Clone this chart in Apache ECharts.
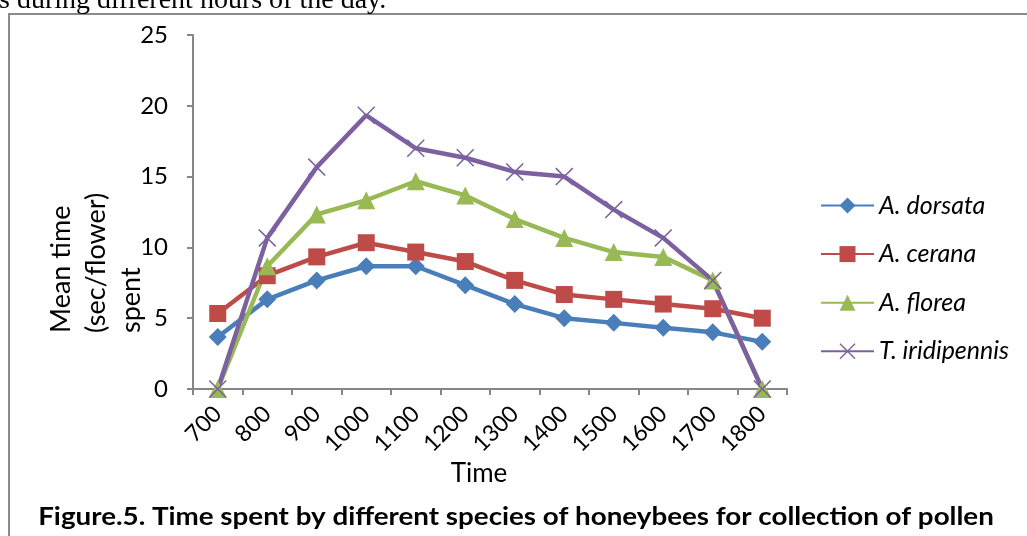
<!DOCTYPE html>
<html>
<head>
<meta charset="utf-8">
<script src="https://cdn.jsdelivr.net/npm/echarts@6/dist/echarts.min.js"></script>
<style>
  html, body { margin: 0; padding: 0; background: #fff; }
  #chart { width: 1027px; height: 536px; }
</style>
</head>
<body>
<div id="chart"></div>
<script>
// Hour of observation (24 h clock)
const hours = ['700', '800', '900', '1000', '1100', '1200', '1300', '1400', '1500', '1600', '1700', '1800'];

// Mean time spent per flower (sec/flower) for each species
const dorsata     = [3.67, 6.33, 7.67, 8.67, 8.67, 7.33, 6.00, 5.00, 4.67, 4.33, 4.00, 3.33];
const cerana      = [5.33, 8.00, 9.33, 10.33, 9.67, 9.00, 7.67, 6.67, 6.33, 6.00, 5.67, 5.00];
const florea      = [0, 8.67, 12.33, 13.33, 14.67, 13.67, 12.00, 10.67, 9.67, 9.33, 7.67, 0];
const iridipennis = [0, 10.67, 15.67, 19.33, 17.00, 16.33, 15.33, 15.00, 12.67, 10.67, 7.67, 0];

const speciesNames = ['A. dorsata', 'A. cerana', 'A. florea', 'T. iridipennis'];
const yTicks = [0, 5, 10, 15, 20, 25];

const crossPath = 'path://M0,0.6 L0.6,0 L5,4.4 L9.4,0 L10,0.6 L5.6,5 L10,9.4 L9.4,10 L5,5.6 L0.6,10 L0,9.4 L4.4,5 Z';

const chart = echarts.init(document.getElementById('chart'), null, { renderer: 'canvas' });

function lineSeries(name, values, color, symbol, size) {
  return {
    name: name,
    type: 'line',
    data: values,
    symbol: symbol,
    symbolSize: size,
    showSymbol: true,
    lineStyle: { color: color, width: 4.5 },
    itemStyle: { color: color },
    z: 2
  };
}

const option = {
  animation: false,
  backgroundColor: '#ffffff',
  grid: { left: 193, right: 240, top: 35, bottom: 147, containLabel: false },
  legend: {
    orient: 'vertical',
    left: 820,
    top: 193,
    padding: 0,
    itemWidth: 53,
    itemHeight: 20,
    itemGap: 23.6,
    data: speciesNames,
    textStyle: { fontFamily: 'Lato', fontStyle: 'italic', fontSize: 25, color: '#000' }
  },
  xAxis: {
    type: 'category',
    data: hours,
    boundaryGap: true,
    axisLine: { lineStyle: { color: '#868686', width: 2 } },
    axisTick: { show: true, length: 6, lineStyle: { color: '#868686', width: 2 } },
    axisLabel: {
      rotate: 45,
      margin: 21,
      fontFamily: 'Lato',
      fontSize: 23,
      color: '#000'
    },
    splitLine: { show: false }
  },
  yAxis: {
    type: 'value',
    min: yTicks[0],
    max: yTicks[yTicks.length - 1],
    interval: 5,
    axisLine: { show: true, lineStyle: { color: '#868686', width: 2 } },
    axisTick: { show: true, length: 6, lineStyle: { color: '#868686', width: 2 } },
    axisLabel: { margin: 25, fontFamily: 'Lato', fontSize: 24, color: '#000' },
    splitLine: { show: false }
  },
  series: [
    lineSeries(speciesNames[0], dorsata, '#4A7EBB', 'diamond', 18),
    lineSeries(speciesNames[1], cerana, '#BE4B48', 'rect', 17),
    lineSeries(speciesNames[2], florea, '#98B954', 'triangle', 18),
    lineSeries(speciesNames[3], iridipennis, '#7D60A0', crossPath, 18)
  ],
  graphic: [
    // frame around the figure (left and top edges)
    {
      type: 'polyline',
      shape: { points: [[9, 536], [9, 14], [1027, 14]] },
      style: { stroke: '#8a8a8a', lineWidth: 2, fill: null },
      silent: true
    },
    // running text line above the figure
    {
      type: 'text',
      x: -1, y: 1,
      style: {
        text: 's during different hours of the day.',
        font: '28px "Liberation Serif"',
        fill: '#000',
        align: 'left',
        verticalAlign: 'middle'
      }
    },
    // y axis title, three lines reading bottom-to-top
    {
      type: 'text',
      x: 61, y: 333, rotation: Math.PI / 2,
      style: { text: 'Mean time', font: '27px Lato', fill: '#000', align: 'left', verticalAlign: 'middle' }
    },
    {
      type: 'text',
      x: 96, y: 333, rotation: Math.PI / 2,
      style: { text: '(sec/flower)', font: '27px Lato', fill: '#000', align: 'left', verticalAlign: 'middle' }
    },
    {
      type: 'text',
      x: 131, y: 333, rotation: Math.PI / 2,
      style: { text: 'spent', font: '27px Lato', fill: '#000', align: 'left', verticalAlign: 'middle' }
    },
    // x axis title
    {
      type: 'text',
      x: 479, y: 474,
      style: { text: 'Time', font: '26px Lato', fill: '#000', align: 'center', verticalAlign: 'middle' }
    },
    // figure caption
    {
      type: 'text',
      x: 516, y: 517, scaleX: 1.11,
      style: {
        text: 'Figure.5. Time spent by different species of honeybees for collection of pollen',
        font: 'bold 25px Lato',
        fill: '#000',
        align: 'center',
        verticalAlign: 'middle'
      }
    }
  ]
};

chart.setOption(option);
</script>
</body>
</html>
